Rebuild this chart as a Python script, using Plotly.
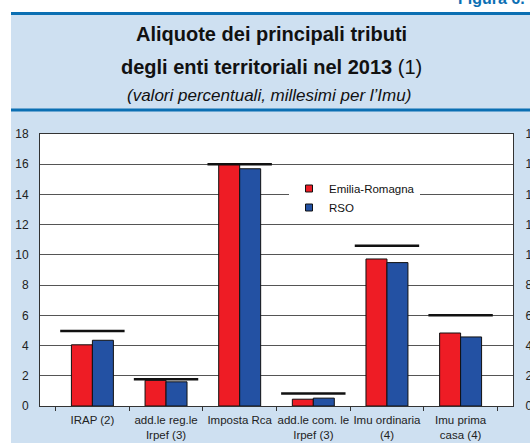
import plotly.graph_objects as go

categories = ["IRAP (2)", "add.le reg.le<br>Irpef (3)", "Imposta Rca",
              "add.le com. le<br>Irpef (3)", "Imu ordinaria<br>(4)", "Imu prima<br>casa (4)"]
emilia_romagna = [4.05, 1.70, 16.0, 0.45, 9.73, 4.83]
rso = [4.35, 1.60, 15.7, 0.52, 9.49, 4.57]
aliquota_max = [4.97, 1.77, 16.0, 0.82, 10.6, 6.0]
y_ticks = [0, 2, 4, 6, 8, 10, 12, 14, 16, 18]

RED = "#EE1C25"
BLUE = "#2351A3"
LIGHT = "#CEE0F1"
LINEBLUE = "#0B6FB3"
FONT = "Liberation Sans, Arial, sans-serif"

W, H = 530, 443
L, R, T, B = 40, 17, 134, 37
PW, PH = W - L - R, H - T - B


def px_x(px):
    return (px - L) / PW


def px_y(py):
    return (H - B - py) / PH


fig = go.Figure()
fig.add_trace(go.Bar(x=categories, y=emilia_romagna, name="Emilia-Romagna",
                     marker=dict(color=RED, line=dict(color="#111", width=1)),
                     showlegend=False))
fig.add_trace(go.Bar(x=categories, y=rso, name="RSO",
                     marker=dict(color=BLUE, line=dict(color="#111", width=1)),
                     showlegend=False))
fig.add_trace(go.Scatter(x=categories, y=aliquota_max, mode="markers", yaxis="y2",
                         marker=dict(symbol="line-ew", size=46, color="#111",
                                     line=dict(color="#111", width=2.5)),
                         showlegend=False, hoverinfo="skip"))
# legend entries
for name, col in [("Emilia-Romagna", RED), ("RSO", BLUE)]:
    fig.add_trace(go.Scatter(x=[None], y=[None], mode="markers", name=name,
                             marker=dict(symbol="square", size=7, color=col,
                                         line=dict(color="#111", width=1))))

shapes = [
    dict(type="rect", xref="paper", yref="paper", x0=px_x(-5), x1=px_x(11),
         y0=px_y(450), y1=px_y(-5), fillcolor="white", line=dict(width=0), layer="above"),
    dict(type="rect", xref="paper", yref="paper", x0=px_x(-5), x1=px_x(540),
         y0=px_y(12), y1=px_y(-5), fillcolor="white", line=dict(width=0), layer="above"),
    dict(type="line", xref="paper", yref="paper", x0=px_x(11), x1=px_x(540),
         y0=px_y(13.5), y1=px_y(13.5), line=dict(color=LINEBLUE, width=3), layer="above"),
    dict(type="line", xref="paper", yref="paper", x0=px_x(11), x1=px_x(540),
         y0=px_y(110), y1=px_y(110), line=dict(color=LINEBLUE, width=3), layer="above"),
]

annotations = [
    dict(text="<b>Figura 6.</b>", xref="paper", yref="paper", x=px_x(527), y=px_y(9),
         xanchor="right", yanchor="bottom", showarrow=False,
         font=dict(family=FONT, size=16, color=LINEBLUE)),
    dict(text="<b>Aliquote dei principali tributi</b>", xref="paper", yref="paper",
         x=px_x(271), y=px_y(34), xanchor="center", yanchor="middle", showarrow=False,
         font=dict(family=FONT, size=20, color="#111")),
    dict(text="<b>degli enti territoriali nel 2013</b> (1)", xref="paper", yref="paper",
         x=px_x(271), y=px_y(67), xanchor="center", yanchor="middle", showarrow=False,
         font=dict(family=FONT, size=20, color="#111")),
    dict(text="<i>(valori percentuali, millesimi per l’Imu)</i>", xref="paper", yref="paper",
         x=px_x(269), y=px_y(95.5), xanchor="center", yanchor="middle", showarrow=False,
         font=dict(family=FONT, size=17, color="#111")),
]

axis_font = dict(family=FONT, size=12, color="#222")

fig.update_layout(
    width=W, height=H,
    margin=dict(l=L, r=R, t=T, b=B, pad=0, autoexpand=False),
    paper_bgcolor=LIGHT, plot_bgcolor="white",
    barmode="group", bargap=0.43, bargroupgap=0,
    shapes=shapes, annotations=annotations,
    legend=dict(x=px_x(289), y=px_y(174), xanchor="left", yanchor="top",
                bgcolor="white", borderwidth=0, itemwidth=30,
                font=dict(family=FONT, size=11.5, color="#111"), tracegroupgap=0),
    xaxis=dict(showline=True, linecolor="#333", linewidth=1, mirror=True,
               tickson="boundaries", ticks="outside", ticklen=4, tickcolor="#333",
               tickangle=0, automargin=False, ticklabelstandoff=3,
               tickfont=dict(family=FONT, size=11.5, color="#222"),
               showgrid=False, fixedrange=True),
    yaxis=dict(range=[0, 18], tickvals=y_ticks, showline=True, linecolor="#333",
               linewidth=1, showgrid=True, gridcolor="#555", gridwidth=1,
               zeroline=False, ticks="", ticklabelstandoff=8, tickfont=axis_font,
               automargin=False),
    yaxis2=dict(range=[0, 18], tickvals=y_ticks, overlaying="y", side="right",
                showline=True, linecolor="#333", linewidth=1, showgrid=False,
                zeroline=False, ticks="", ticklabelstandoff=9, tickfont=axis_font,
                automargin=False),
)

fig.write_html("out.html", config={"displayModeBar": False},
               post_script="document.body.style.margin='0';document.body.style.overflow='hidden';")
